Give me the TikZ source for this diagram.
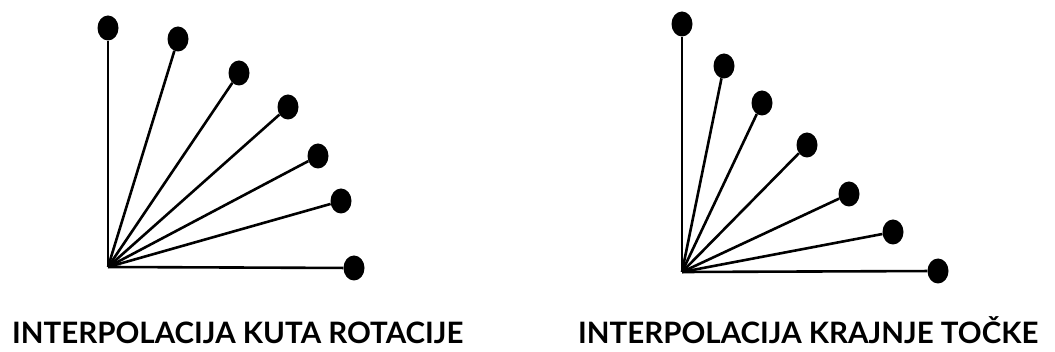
\documentclass[tikz,border=0pt]{standalone}
\usepackage{fontspec}
\setmainfont{Lato}
\usepackage{tikz}
\usetikzlibrary{shapes.geometric}

\tikzset{
  ball/.style={ellipse, fill=black, inner sep=0pt, minimum width=21pt, minimum height=25pt},
  rod/.style={line width=2.6pt},
  caption/.style={font=\bfseries\fontsize{29.5}{35}\selectfont, anchor=base west, inner sep=0pt}
}

\begin{document}
\begin{tikzpicture}[x=1pt,y=-1pt]
        \useasboundingbox (0,0) rectangle (1055,352);
        % rotation angle interpolation
        \coordinate (pl) at (108,267);
        \node[ball] (l1) at (108,28) {};
        \node[ball] (l2) at (178,39) {};
        \node[ball] (l3) at (239,73) {};
        \node[ball] (l4) at (288,107) {};
        \node[ball] (l5) at (318,156) {};
        \node[ball] (l6) at (341,201) {};
        \node[ball] (l7) at (354,268) {};
        \foreach \i in {1,...,7} \draw[rod] (pl) -- (l\i);
        % end point interpolation
        \coordinate (pr) at (682,272);
        \node[ball] (r1) at (682,24) {};
        \node[ball] (r2) at (724,66) {};
        \node[ball] (r3) at (762,103) {};
        \node[ball] (r4) at (807,145) {};
        \node[ball] (r5) at (849,194) {};
        \node[ball] (r6) at (893,232) {};
        \node[ball] (r7) at (938,271) {};
        \foreach \i in {1,...,7} \draw[rod] (pr) -- (r\i);
        \node[caption] (capl) at (12,344) {INTERPOLACIJA KUTA ROTACIJE};
        \node[caption] (capr) at (578,344) {INTERPOLACIJA KRAJNJE TOČKE};
      \end{tikzpicture}
\end{document}
